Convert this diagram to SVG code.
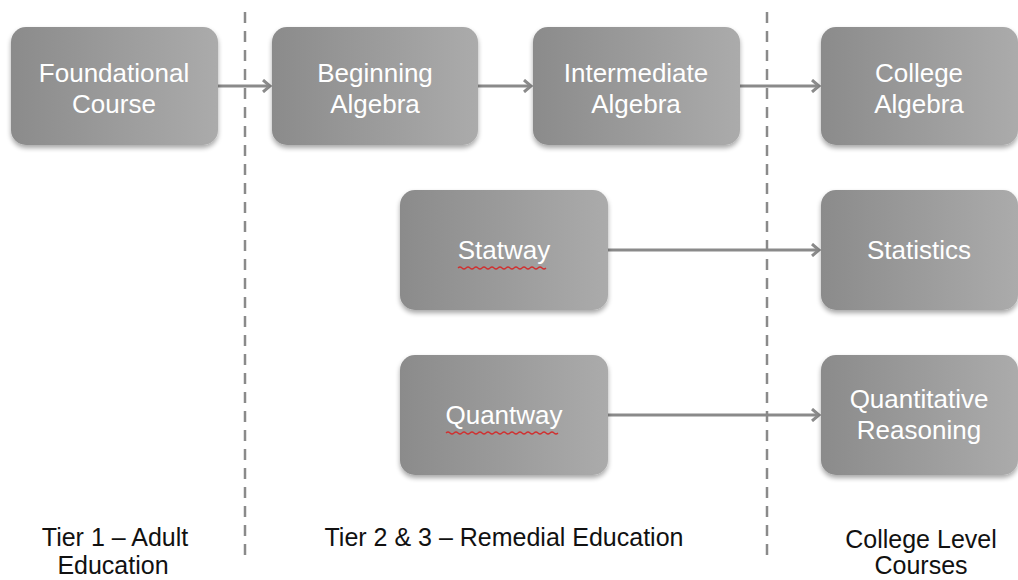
<svg xmlns="http://www.w3.org/2000/svg" width="1018" height="580" viewBox="0 0 1018 580">
<defs>
<linearGradient id="g" x1="0" y1="0" x2="1" y2="0">
<stop offset="0" stop-color="#8b8b8b"/>
<stop offset="1" stop-color="#ababab"/>
</linearGradient>
<filter id="sh" x="-10%" y="-10%" width="120%" height="125%">
<feGaussianBlur in="SourceAlpha" stdDeviation="2.5"/>
<feOffset dx="0" dy="3" result="b"/>
<feComponentTransfer><feFuncA type="linear" slope="0.35"/></feComponentTransfer>
<feMerge><feMergeNode/><feMergeNode in="SourceGraphic"/></feMerge>
</filter>
<marker id="ah" markerWidth="14" markerHeight="14" refX="11" refY="7" orient="auto" markerUnits="userSpaceOnUse">
<polyline points="4,1 11,7 4,13" fill="none" stroke="#8a8a8a" stroke-width="3"/>
</marker>
</defs>
<style>
.box{fill:url(#g);filter:url(#sh)}
.t{font-family:"Liberation Sans",Arial,sans-serif;font-size:26px;fill:#ffffff;text-anchor:middle}
.lab{font-family:"Liberation Sans",Arial,sans-serif;font-size:25px;fill:#111111;text-anchor:middle}
.dash{stroke:#8a8a8a;stroke-width:2.5;stroke-dasharray:11 8;fill:none}
.conn{stroke:#8a8a8a;stroke-width:3;fill:none;marker-end:url(#ah)}
.sq{stroke:#d03030;stroke-width:1.2;fill:none}
</style>
<rect width="1018" height="580" fill="#ffffff"/>
<g id="dividers">
<line class="dash" x1="245" y1="12" x2="245" y2="558"/>
<line class="dash" x1="767" y1="12" x2="767" y2="558"/>
</g>
<g id="connectors">
<line class="conn" x1="218" y1="86" x2="270" y2="86"/>
<line class="conn" x1="478" y1="86" x2="531" y2="86"/>
<line class="conn" x1="740" y1="86" x2="819" y2="86"/>
<line class="conn" x1="608" y1="250" x2="819" y2="250"/>
<line class="conn" x1="608" y1="415" x2="819" y2="415"/>
</g>
<g id="foundational">
<rect class="box" x="11" y="27" width="207" height="118" rx="15"/>
<text class="t" x="114" y="82">Foundational</text>
<text class="t" x="114" y="113">Course</text>
</g>
<g id="beginning">
<rect class="box" x="272" y="27" width="206" height="118" rx="15"/>
<text class="t" x="375" y="82">Beginning</text>
<text class="t" x="375" y="113">Algebra</text>
</g>
<g id="intermediate">
<rect class="box" x="533" y="27" width="207" height="118" rx="15"/>
<text class="t" x="636" y="82">Intermediate</text>
<text class="t" x="636" y="113">Algebra</text>
</g>
<g id="college-algebra">
<rect class="box" x="821" y="27" width="197" height="118" rx="15"/>
<text class="t" x="919" y="82">College</text>
<text class="t" x="919" y="113">Algebra</text>
</g>
<g id="statway">
<rect class="box" x="400" y="190" width="208" height="120" rx="15"/>
<text class="t" x="504" y="259">Statway</text>
<path class="sq" d="M458,268 q2,-2 4,0 t4,0 t4,0 t4,0 t4,0 t4,0 t4,0 t4,0 t4,0 t4,0 t4,0 t4,0 t4,0 t4,0 t4,0 t4,0 t4,0 t4,0 t4,0 t4,0 t4,0 t4,0"/>
</g>
<g id="statistics">
<rect class="box" x="821" y="190" width="197" height="120" rx="15"/>
<text class="t" x="919" y="259">Statistics</text>
</g>
<g id="quantway">
<rect class="box" x="400" y="355" width="208" height="120" rx="15"/>
<text class="t" x="504" y="424">Quantway</text>
<path class="sq" d="M446,433 q2,-2 4,0 t4,0 t4,0 t4,0 t4,0 t4,0 t4,0 t4,0 t4,0 t4,0 t4,0 t4,0 t4,0 t4,0 t4,0 t4,0 t4,0 t4,0 t4,0 t4,0 t4,0 t4,0 t4,0 t4,0 t4,0 t4,0 t4,0 t4,0"/>
</g>
<g id="quantitative">
<rect class="box" x="821" y="355" width="197" height="120" rx="15"/>
<text class="t" x="919" y="408">Quantitative</text>
<text class="t" x="919" y="439">Reasoning</text>
</g>
<g id="labels">
<text class="lab" x="115" y="546">Tier 1 – Adult</text>
<text class="lab" x="113" y="574">Education</text>
<text class="lab" x="504" y="546">Tier 2 &amp; 3 – Remedial Education</text>
<text class="lab" x="921" y="548">College Level</text>
<text class="lab" x="921" y="574">Courses</text>
</g>
</svg>
